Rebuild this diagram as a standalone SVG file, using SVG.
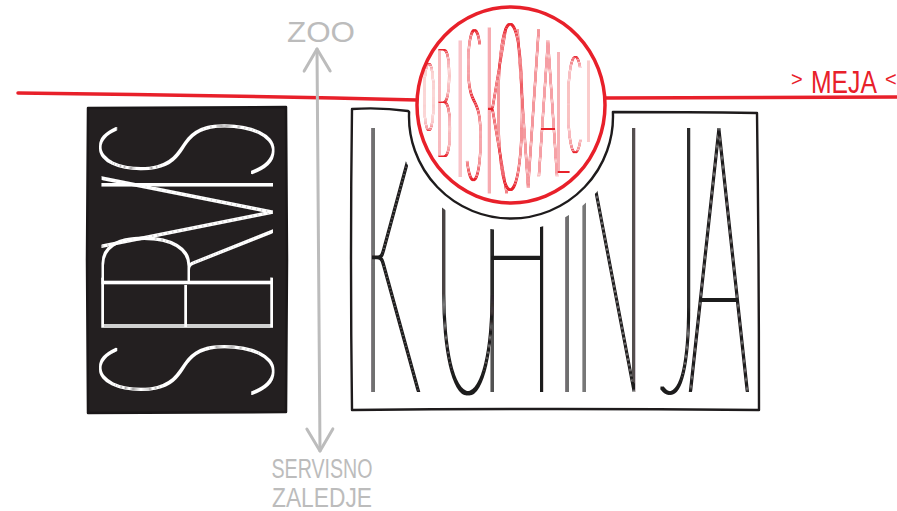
<svg xmlns="http://www.w3.org/2000/svg" width="897" height="511" viewBox="0 0 897 511">
<style>
.red{stroke:#e8202a;fill:none;stroke-width:3.5;stroke-linecap:round;stroke-linejoin:round}
.ink{stroke:#1e1b1c;fill:none;stroke-width:2.4;stroke-linecap:round;stroke-linejoin:round}
.gray{fill:#bcbcbc;font-family:"Liberation Sans",Arial,sans-serif}
.thin{font-family:Lato,Roboto,"DejaVu Sans",sans-serif;font-weight:100}
</style>
<defs>
<marker id="ah" markerUnits="userSpaceOnUse" markerWidth="32" markerHeight="32" viewBox="-26 -16 32 32" refX="0" refY="0" orient="auto-start-reverse">
<path d="M-22,-13 L0,0 L-22,13" fill="none" stroke="#bcbcbc" stroke-width="3" stroke-linecap="round" stroke-linejoin="round"/>
</marker>
<clipPath id="kclip">
<path clip-rule="evenodd" d="M340,100 H770 V420 H340 Z M397,117 A114,114 0 1 0 625,117 A114,114 0 1 0 397,117 Z"/>
</clipPath>
<filter id="wx" filterUnits="userSpaceOnUse" x="0" y="0" width="897" height="511"><feMorphology operator="dilate" radius="1 0.01"/></filter>
<filter id="wy" filterUnits="userSpaceOnUse" x="0" y="0" width="897" height="511"><feMorphology operator="dilate" radius="0.01 1"/></filter>
</defs>
<rect width="897" height="511" fill="#fff"/>

<g id="meja">
<path class="red" d="M18,93 Q200,95 417,100"/>
<path class="red" d="M605,98 Q750,97 897,97"/>
<text fill="#e8202a" font-family="'Liberation Sans',Arial,sans-serif"><tspan x="791" y="86" font-size="20">&gt;</tspan><tspan x="811" y="93" font-size="31" textLength="66" lengthAdjust="spacingAndGlyphs">MEJA</tspan><tspan x="885" y="86" font-size="20">&lt;</tspan></text>
</g>

<g id="servis">
<path d="M88,108 L286,107 L287,260 L286,412 L88,413 L87,260 Z" fill="#231f20" stroke="#1a1718" stroke-width="2.5" stroke-linejoin="round"/>
<g filter="url(#wy)">
<text class="thin" transform="translate(273,0) rotate(-90) scale(0.48,1)" font-size="244" fill="#fff" text-anchor="middle"><tspan x="-770" y="0">S</tspan><tspan x="-638" y="0">E</tspan><tspan x="-546" y="0">R</tspan><tspan x="-442" y="0">V</tspan><tspan x="-385" y="0">I</tspan><tspan x="-310" y="0">S</tspan></text>
</g>
</g>

<g id="kuhinja">
<path class="ink" d="M352,109 Q380,107 408,111 L409.1,112 A102,102 0 1 0 612.9,112 L613,112 Q690,112 757,113 Q759,260 759,410 Q560,408 352,410 Q350,260 352,109 Z"/>
<g clip-path="url(#kclip)">
<g filter="url(#wx)">
<text class="thin" transform="scale(0.26,1)" font-size="377" fill="#1e1b1c" text-anchor="middle"><tspan x="1504" y="392">K</tspan><tspan x="1800" y="392">U</tspan><tspan x="1988" y="392">H</tspan><tspan x="2181" y="392">I</tspan><tspan x="2342" y="392">N</tspan><tspan x="2615" y="392">J</tspan><tspan x="2765" y="392">A</tspan></text>
</g>
</g>
</g>

<g id="obiskovalci">
<ellipse cx="511" cy="105" rx="94" ry="98" fill="#fff" stroke="#e8202a" stroke-width="3.5"/>
<g filter="url(#wx)">
<text class="thin" transform="scale(0.16,1)" fill="#e8202a" text-anchor="middle"><tspan x="2681" y="130" font-size="93.5">O</tspan><tspan x="2775" y="157" font-size="153.5">B</tspan><tspan x="2875" y="177" font-size="195.4">I</tspan><tspan x="2963" y="180" font-size="212">S</tspan><tspan x="3100" y="193" font-size="237">K</tspan><tspan x="3188" y="190" font-size="234">O</tspan><tspan x="3300" y="188" font-size="227.5">V</tspan><tspan x="3425" y="177" font-size="195.4">A</tspan><tspan x="3513" y="173" font-size="171.7">L</tspan><tspan x="3588" y="153" font-size="136.8">C</tspan><tspan x="3680" y="142" font-size="117">I</tspan></text>
</g>
</g>

<g id="connectors">
<path d="M317,49 L320,451" fill="none" stroke="#bcbcbc" stroke-width="3" stroke-linecap="round" marker-start="url(#ah)" marker-end="url(#ah)"/>
</g>

<g id="zoo">
<text class="gray" x="321" y="42" font-size="30" text-anchor="middle" textLength="68" lengthAdjust="spacingAndGlyphs">ZOO</text>
</g>

<g id="servisno-zaledje">
<text class="gray" x="322" y="478" font-size="27" text-anchor="middle" textLength="101" lengthAdjust="spacingAndGlyphs">SERVISNO</text>
<text class="gray" x="322" y="507" font-size="28" text-anchor="middle" textLength="100" lengthAdjust="spacingAndGlyphs">ZALEDJE</text>
</g>
</svg>
